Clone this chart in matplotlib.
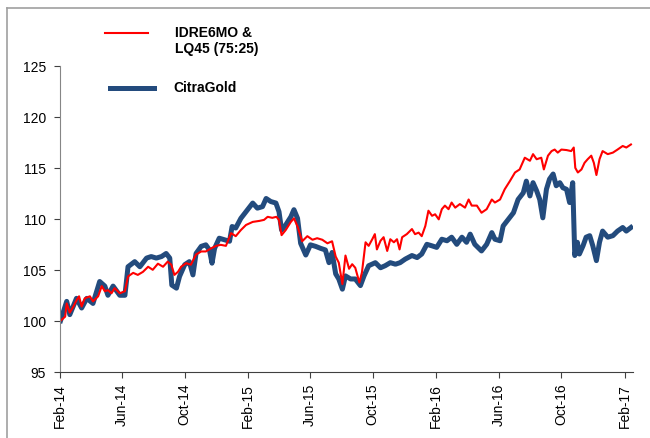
import matplotlib
matplotlib.use("Agg")
import matplotlib.pyplot as plt
import matplotlib.dates as mdates
from matplotlib.lines import Line2D
import pandas as pd

# =========== Data =====================================

START = "2014-02-01"
END = "2017-02-17"

# days since START, index values
red_days = [1, 10, 13, 19, 26, 32, 37, 42, 48, 58, 64, 74, 81, 87, 93, 100, 106,
            116, 126, 132, 142, 151, 161, 171, 180, 190, 200, 209, 216, 222, 229,
            235, 245, 254, 264, 274, 283, 293, 303, 312, 322, 332, 341, 351, 361,
            374, 387, 396, 403, 412, 420, 425, 430, 438, 448, 454, 461, 470, 480,
            490, 499, 509, 519, 528, 535, 541, 548, 554, 561, 567, 573, 581, 586,
            593, 599, 606, 611, 615, 622, 628, 635, 641, 648, 654, 659, 664, 673,
            683, 689, 696, 702, 709, 715, 722, 728, 735, 741, 747, 754, 760, 767,
            776, 786, 793, 799, 809, 818, 828, 838, 844, 854, 863, 873, 883, 892,
            902, 912, 918, 925, 934, 939, 947, 954, 960, 966, 973, 983, 992, 997,
            1000, 1005, 1012, 1018, 1024, 1031, 1036, 1041, 1047, 1053, 1063, 1073,
            1082, 1092, 1099, 1108]
red_vals = [100.0, 100.4, 101.7, 100.8, 101.4, 102.0, 102.4, 101.4, 102.2, 102.4,
            101.9, 102.4, 103.4, 102.9, 103.0, 102.7, 103.2, 102.7, 102.9, 104.35,
            104.7, 104.5, 104.8, 105.3, 105.0, 105.6, 105.3, 105.8, 105.5, 104.5,
            104.8, 105.3, 105.65, 105.5, 106.5, 106.8, 106.8, 107.1, 107.35, 107.45,
            107.35, 108.6, 108.3, 108.9, 109.4, 109.7, 109.8, 109.9, 110.2, 110.1,
            110.2, 109.9, 108.4, 108.9, 109.7, 110.05, 109.25, 107.8, 108.3, 107.95,
            108.1, 107.95, 107.6, 107.8, 106.3, 105.7, 103.6, 106.4, 105.1, 105.55,
            105.2, 103.75, 104.75, 107.7, 107.35, 108.0, 108.5, 107.0, 107.85, 108.2,
            106.85, 108.0, 107.7, 108.0, 107.0, 108.2, 108.5, 109.0, 108.5, 108.65,
            108.3, 109.3, 110.8, 110.3, 110.45, 109.95, 110.95, 111.3, 110.95, 111.6,
            111.1, 111.45, 111.1, 111.9, 111.3, 111.3, 110.6, 110.95, 111.9, 111.6,
            111.9, 112.9, 113.7, 114.55, 114.85, 116.0, 115.7, 116.35, 115.85, 116.0,
            114.85, 116.2, 116.65, 116.8, 116.5, 116.8, 116.75, 116.65, 117.0, 115.0,
            114.55, 114.85, 115.5, 115.85, 116.2, 115.5, 114.3, 115.85, 116.65,
            116.35, 116.5, 116.8, 117.15, 117.0, 117.3]

blue_days = [1, 13, 19, 32, 42, 52, 64, 77, 87, 93, 103, 116, 126, 132, 145, 155,
             168, 177, 187, 197, 206, 213, 217, 226, 232, 242, 251, 258, 264, 274,
             283, 290, 295, 300, 309, 319, 329, 334, 341, 351, 364, 374, 383, 393,
             400, 409, 419, 425, 430, 438, 448, 454, 461, 467, 477, 486, 496, 506,
             515, 522, 528, 535, 541, 548, 554, 564, 573, 583, 590, 599, 612, 622,
             631, 641, 651, 660, 670, 683, 693, 702, 712, 722, 731, 741, 751, 760,
             770, 780, 789, 796, 805, 818, 828, 838, 844, 854, 860, 870, 880, 889,
             899, 905, 912, 918, 925, 931, 937, 944, 950, 957, 963, 970, 976, 983,
             989, 995, 999, 1004, 1008, 1015, 1021, 1028, 1034, 1041, 1047, 1053,
             1063, 1073, 1082, 1092, 1099, 1108]
blue_vals = [100.0, 101.9, 100.6, 102.2, 101.25, 102.2, 101.7, 103.85, 103.4, 102.5,
             103.4, 102.5, 102.5, 105.3, 105.8, 105.3, 106.15, 106.3, 106.15, 106.3,
             106.6, 106.15, 103.5, 103.2, 104.35, 105.5, 105.8, 104.5, 106.6, 107.3,
             107.45, 106.95, 105.65, 107.1, 108.1, 107.95, 107.8, 109.25, 109.1,
             110.05, 110.9, 111.55, 111.05, 111.2, 112.0, 111.7, 111.55, 110.7, 108.9,
             109.4, 110.2, 110.9, 110.05, 107.6, 106.45, 107.45, 107.3, 107.1, 106.95,
             105.7, 106.7, 104.6, 104.1, 103.1, 104.4, 104.1, 104.1, 103.45, 104.4,
             105.4, 105.7, 105.2, 105.4, 105.7, 105.55, 105.7, 106.05, 106.4, 106.2,
             106.55, 107.5, 107.35, 107.2, 108.0, 107.85, 108.2, 107.5, 108.2, 107.7,
             108.5, 107.5, 106.85, 107.5, 108.65, 108.0, 107.85, 109.3, 109.95, 110.6,
             111.9, 112.55, 113.7, 112.25, 113.55, 112.75, 111.9, 110.1, 112.9, 113.9,
             114.4, 113.25, 113.55, 113.05, 112.9, 111.6, 113.55, 106.4, 107.7,
             106.55, 107.35, 108.2, 108.35, 107.35, 105.9, 107.7, 108.8, 108.2,
             108.35, 108.8, 109.15, 108.8, 109.15]

RED_LABEL = "IDRE6MO &\nLQ45 (75:25)"
BLUE_LABEL = "CitraGold"
RED = "#FF0000"
BLUE = "#234B7D"

# =========== Plot ============

plt.rcParams["font.family"] = ["Liberation Sans", "DejaVu Sans"]

start = pd.Timestamp(START)
red_dates = start + pd.to_timedelta(red_days, unit="D")
blue_dates = start + pd.to_timedelta(blue_days, unit="D")

fig = plt.figure(figsize=(6.5, 4.39), dpi=100)
ax = fig.add_axes([60 / 650, 1 - 372.7 / 439, 573 / 650, (372.7 - 67) / 439])

ax.plot(blue_dates, blue_vals, color=BLUE, linewidth=3.6, solid_joinstyle="round")
ax.plot(red_dates, red_vals, color=RED, linewidth=1.5)

ax.set_ylim(95, 125)
ax.set_yticks(range(95, 126, 5))
ax.set_xlim(start, pd.Timestamp(END))
ax.xaxis.set_major_locator(mdates.MonthLocator(bymonth=[2, 6, 10]))
ax.xaxis.set_major_formatter(mdates.DateFormatter("%b-%y"))
plt.setp(ax.get_xticklabels(), rotation=90)

for s in ["top", "right"]:
    ax.spines[s].set_visible(False)
ax.spines["left"].set_color("#868686")
ax.spines["bottom"].set_color("#404040")
ax.tick_params(axis="y", length=4, pad=6, labelsize=10, color="#404040")
ax.tick_params(axis="x", length=4, pad=4, labelsize=10, color="#404040")

# legend, hand placed like the original
fig.add_artist(Line2D([105 / 650, 148 / 650], [1 - 34 / 439] * 2, color=RED, linewidth=1.5))
fig.text(175 / 650, 1 - 41 / 439, RED_LABEL, fontsize=10, fontweight="bold",
         va="center", ha="left", linespacing=1.25)
fig.add_artist(Line2D([110 / 650, 154 / 650], [1 - 88.5 / 439] * 2, color=BLUE, linewidth=3.6))
fig.text(173 / 650, 1 - 88 / 439, BLUE_LABEL, fontsize=10, fontweight="bold",
         va="center", ha="left")

# outer frame of the source slide
fig.add_artist(Line2D([7 / 650, 7 / 650], [0, 1 - 9 / 439], color="#A0A0A0", linewidth=1.2))
fig.add_artist(Line2D([7 / 650, 1], [1 - 9 / 439] * 2, color="#A0A0A0", linewidth=1.2))

fig.savefig("out.png", dpi=100)
